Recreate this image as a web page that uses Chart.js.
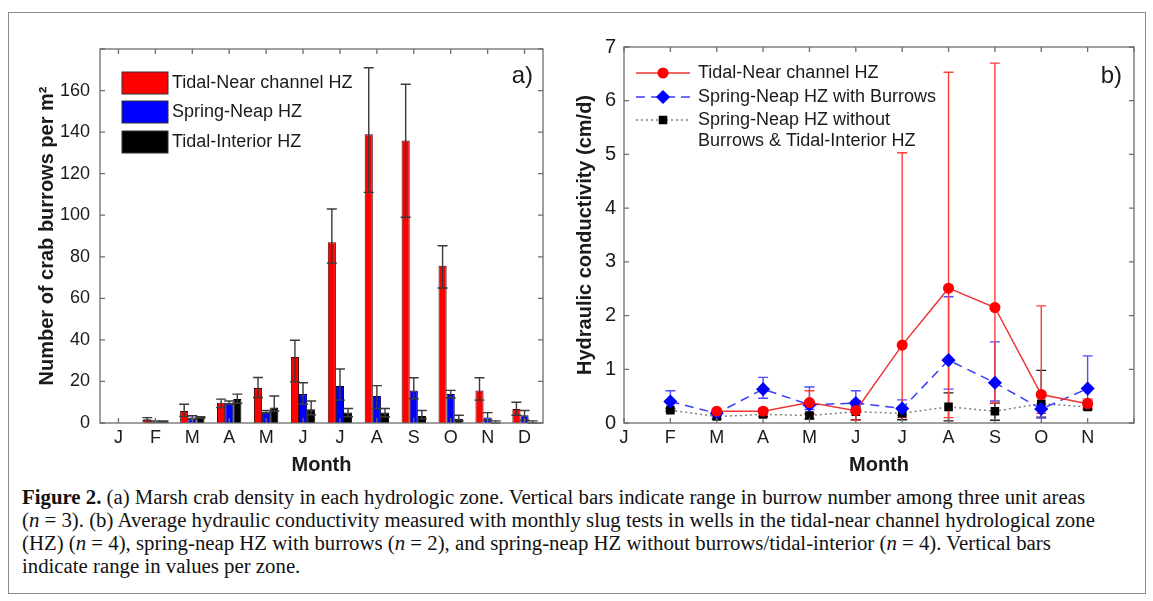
<!DOCTYPE html>
<html lang="en">
<head>
  <meta charset="UTF-8">
  <title>Figure 2 - crab burrows and hydraulic conductivity</title>
  <script src="https://cdn.jsdelivr.net/npm/chart.js"></script>
  <style>
    body { margin: 0; background: #fff; }
    #page { position: relative; width: 1153px; height: 601px; overflow: hidden; }
    #frame { position: absolute; left: 8px; top: 12px; width: 1136px; height: 580px; border: 1.5px solid #8c8c8c; }
    #boxA { position: absolute; left: 0; top: 0; width: 560px; height: 480px; }
    #boxB { position: absolute; left: 560px; top: 0; width: 593px; height: 480px; }
    #caption { position: absolute; left: 22px; top: 485px; font-family: "Liberation Serif", "DejaVu Serif", serif;
      font-size: 20.8px; line-height: 23px; color: #111; white-space: nowrap; }
  </style>
</head>
<body>
<div id="page">
  <div id="frame"></div>
  <div id="boxA"><canvas id="burrowChart" width="560" height="480"></canvas></div>
  <div id="boxB"><canvas id="kChart" width="593" height="480"></canvas></div>
  <div id="caption">
    <b>Figure 2.</b> (a) Marsh crab density in each hydrologic zone. Vertical bars indicate range in burrow number among three unit areas<br>
    (<i>n</i> = 3). (b) Average hydraulic conductivity measured with monthly slug tests in wells in the tidal-near channel hydrological zone<br>
    (HZ) (<i>n</i> = 4), spring-neap HZ with burrows (<i>n</i> = 2), and spring-neap HZ without burrows/tidal-interior (<i>n</i> = 4). Vertical bars<br>
    indicate range in values per zone.
  </div>
</div>
<script>
  const months = ['J', 'F', 'M', 'A', 'M', 'J', 'J', 'A', 'S', 'O', 'N', 'D'];

  // (a) crab burrows per m2 : mean, low, high
  const nearBurrows     = [0, 1.8, 5.8, 9.7, 16.8, 31.8, 87, 139, 136, 75.7, 15.7, 6.7];
  const nearBurrowsLo   = [0, 1.0, 3.2, 7.4, 12.3, 19.8, 77, 111, 99, 65, 11, 3.7];
  const nearBurrowsHi   = [0, 2.6, 9.0, 11.5, 21.9, 39.8, 103, 171, 163, 85.3, 21.8, 10];
  const springBurrows   = [0, 0.6, 2.6, 9.8, 5.5, 13.9, 17.8, 13, 15.7, 14, 2.6, 3.7];
  const springBurrowsLo = [0, 0.3, 1.8, 9.0, 4.8, 9.0, 11, 7, 11.7, 12, 1.3, 1.3];
  const springBurrowsHi = [0, 1.0, 3.5, 10.6, 6.1, 19.4, 26, 18, 21.8, 15.7, 5, 6];
  const interiorBurrows   = [0, 0.7, 2.6, 11.5, 7.4, 6.6, 5, 5, 3.4, 2, 0.3, 0.3];
  const interiorBurrowsLo = [0, 0.4, 2.3, 9.5, 5.8, 4.0, 3, 3, 2, 1, 0, 0];
  const interiorBurrowsHi = [0, 1.0, 3.0, 13.9, 13, 10.6, 7, 7, 6, 3.7, 1, 1];

  // (b) hydraulic conductivity (cm/d) : mean, low, high
  const nearK     = [null, null, 0.22, 0.22, 0.38, 0.23, 1.45, 2.51, 2.15, 0.53, 0.36, null];
  const nearKLo   = [null, null, 0.19, 0.18, 0.16, 0.05, 0.10, 0.10, 0.37, 0.18, 0.28, null];
  const nearKHi   = [null, null, 0.25, 0.27, 0.60, 0.42, 5.03, 6.53, 6.70, 2.18, 0.45, null];
  const springK   = [null, 0.40, 0.18, 0.63, 0.34, 0.37, 0.27, 1.17, 0.75, 0.26, 0.64, null];
  const springKLo = [null, 0.27, 0.15, 0.46, 0.25, 0.25, 0.15, 0.63, 0.41, 0.09, 0.42, null];
  const springKHi = [null, 0.60, 0.22, 0.85, 0.67, 0.60, 0.43, 2.35, 1.51, 0.35, 1.25, null];
  const interiorK   = [null, 0.24, 0.12, 0.16, 0.14, 0.21, 0.18, 0.30, 0.22, 0.36, 0.30, null];
  const interiorKLo = [null, 0.22, 0.08, 0.12, 0.08, 0.06, 0.06, 0.04, 0.05, 0.11, 0.25, null];
  const interiorKHi = [null, 0.27, 0.16, 0.20, 0.18, 0.30, 0.25, 0.56, 0.37, 0.98, 0.38, null];

  Chart.defaults.font.family = '"Liberation Sans", Arial, sans-serif';
  Chart.defaults.color = '#1a1a1a';

  // box around the plot and inward ticks on all four sides (matlab look)
  const boxTicks = {
    id: 'boxTicks',
    afterDraw(chart) {
      const { ctx, chartArea: a, scales: { x, y } } = chart;
      ctx.save();
      ctx.strokeStyle = '#6e6e6e';
      ctx.lineWidth = 1.3;
      ctx.strokeRect(a.left, a.top, a.right - a.left, a.bottom - a.top);
      ctx.beginPath();
      y.ticks.forEach(t => {
        const py = y.getPixelForValue(t.value);
        ctx.moveTo(a.left, py); ctx.lineTo(a.left + 5, py);
        ctx.moveTo(a.right, py); ctx.lineTo(a.right - 5, py);
      });
      months.forEach((m, i) => {
        const px = x.getPixelForTick(i);
        ctx.moveTo(px, a.top); ctx.lineTo(px, a.top + 5);
        ctx.moveTo(px, a.bottom); ctx.lineTo(px, a.bottom - 5);
      });
      ctx.stroke();
      ctx.restore();
    }
  };

  function drawErrors(chart, sets, capHalf) {
    const { ctx, scales: { y } } = chart;
    ctx.save();
    sets.forEach(s => {
      const meta = chart.getDatasetMeta(s.index);
      ctx.strokeStyle = s.color;
      ctx.lineWidth = 1.4;
      meta.data.forEach((el, i) => {
        if (s.lo[i] == null || s.lo[i] === s.hi[i]) return;
        const yl = y.getPixelForValue(s.lo[i]);
        const yh = y.getPixelForValue(s.hi[i]);
        ctx.beginPath();
        ctx.moveTo(el.x, yl); ctx.lineTo(el.x, yh);
        ctx.moveTo(el.x - capHalf, yl); ctx.lineTo(el.x + capHalf, yl);
        ctx.moveTo(el.x - capHalf, yh); ctx.lineTo(el.x + capHalf, yh);
        ctx.stroke();
      });
    });
    ctx.restore();
  }

  // ---------- (a) ----------
  const barErrors = {
    id: 'barErrors',
    afterDatasetsDraw(chart) {
      drawErrors(chart, [
        { index: 0, lo: nearBurrowsLo, hi: nearBurrowsHi, color: '#3a3a3a' },
        { index: 1, lo: springBurrowsLo, hi: springBurrowsHi, color: '#3a3a3a' },
        { index: 2, lo: interiorBurrowsLo, hi: interiorBurrowsHi, color: '#3a3a3a' }
      ], 5);
    }
  };

  const legendA = {
    id: 'legendA',
    afterDraw(chart) {
      const { ctx, chartArea: a } = chart;
      const rows = [83, 112, 142];
      ctx.save();
      ctx.font = '18px "Liberation Sans", Arial, sans-serif';
      ctx.textBaseline = 'middle';
      chart.data.datasets.forEach((ds, i) => {
        const yc = rows[i];
        ctx.fillStyle = ds.backgroundColor;
        ctx.fillRect(a.left + 22, yc - 11, 46, 22);
        ctx.strokeStyle = '#333';
        ctx.lineWidth = 1;
        ctx.strokeRect(a.left + 22, yc - 11, 46, 22);
        ctx.fillStyle = '#1a1a1a';
        ctx.fillText(ds.label, a.left + 72, yc);
      });
      ctx.font = '24px "Liberation Sans", Arial, sans-serif';
      ctx.textAlign = 'right';
      ctx.fillText('a)', a.right - 10, 76);
      ctx.restore();
    }
  };

  new Chart(document.getElementById('burrowChart'), {
    type: 'bar',
    data: {
      labels: months,
      datasets: [
        { label: 'Tidal-Near channel HZ', data: nearBurrows, backgroundColor: '#ff0000', borderColor: '#4a0000' },
        { label: 'Spring-Neap HZ', data: springBurrows, backgroundColor: '#0000ff', borderColor: '#00004a' },
        { label: 'Tidal-Interior HZ', data: interiorBurrows, backgroundColor: '#000000', borderColor: '#000000' }
      ]
    },
    options: {
      responsive: false,
      animation: false,
      layout: { padding: { top: 49, right: 17, bottom: 0, left: 0 } },
      datasets: { bar: { categoryPercentage: 0.66, barPercentage: 1.0, borderWidth: 1 } },
      plugins: { legend: { display: false }, tooltip: { enabled: false } },
      scales: {
        x: {
          grid: { display: false, drawTicks: false },
          border: { display: false },
          ticks: { font: { size: 18 }, padding: 4, maxRotation: 0, autoSkip: false },
          title: { display: true, text: 'Month', font: { size: 20, weight: 'bold' }, padding: { top: 0, bottom: 3 } },
          afterFit(s) { s.height = 57; }
        },
        y: {
          min: 0, max: 180,
          grid: { display: false, drawTicks: false },
          border: { display: false },
          ticks: { stepSize: 20, font: { size: 18 }, padding: 10, callback: v => (v === 180 ? '' : v) },
          title: { display: true, text: 'Number of crab burrows per m²', font: { size: 20, weight: 'bold' }, padding: { top: 35, bottom: 0 } },
          afterFit(s) { s.width = 100; }
        }
      }
    },
    plugins: [barErrors, boxTicks, legendA]
  });

  // ---------- (b) ----------
  const lineErrors = {
    id: 'lineErrors',
    beforeDatasetsDraw(chart) {
      drawErrors(chart, [
        { index: 2, lo: interiorKLo, hi: interiorKHi, color: '#1e1e1e' },
        { index: 1, lo: springKLo, hi: springKHi, color: '#4d4dff' },
        { index: 0, lo: nearKLo, hi: nearKHi, color: '#ff3b3b' }
      ], 5);
    }
  };

  const legendB = {
    id: 'legendB',
    afterDraw(chart) {
      const { ctx, chartArea: a } = chart;
      const rows = [73, 97, 120];
      const x0 = a.left + 12, x1 = a.left + 66, xm = a.left + 39;
      ctx.save();
      ctx.font = '18px "Liberation Sans", Arial, sans-serif';
      ctx.textBaseline = 'middle';
      chart.data.datasets.forEach((ds, i) => {
        const yc = rows[i];
        ctx.strokeStyle = ds.borderColor;
        ctx.lineWidth = ds.borderWidth;
        ctx.setLineDash(ds.borderDash || []);
        ctx.beginPath(); ctx.moveTo(x0, yc); ctx.lineTo(x1, yc); ctx.stroke();
        ctx.setLineDash([]);
        ctx.fillStyle = ds.pointBackgroundColor;
        ctx.strokeStyle = ds.pointBorderColor;
        Chart.helpers.drawPoint(ctx, { pointStyle: ds.pointStyle, radius: ds.pointRadius, borderWidth: 1, rotation: 0 }, xm, yc);
        ctx.fillStyle = '#1a1a1a';
        const lines = Array.isArray(ds.label) ? ds.label : [ds.label];
        lines.forEach((t, k) => ctx.fillText(t, a.left + 74, yc + k * 21));
      });
      ctx.font = '24px "Liberation Sans", Arial, sans-serif';
      ctx.textAlign = 'right';
      ctx.fillText('b)', a.right - 12, 76);
      ctx.restore();
    }
  };

  new Chart(document.getElementById('kChart'), {
    type: 'line',
    data: {
      labels: months,
      datasets: [
        { label: 'Tidal-Near channel HZ', data: nearK, borderColor: '#f03434', borderWidth: 1.5,
          pointStyle: 'circle', pointRadius: 4.8, pointBackgroundColor: '#ff0000', pointBorderColor: '#ff0000' },
        { label: 'Spring-Neap HZ with Burrows', data: springK, borderColor: '#3c3cff', borderWidth: 1.5, borderDash: [9, 6],
          pointStyle: 'rectRot', pointRadius: 6, pointBackgroundColor: '#0000ff', pointBorderColor: '#0000ff' },
        { label: ['Spring-Neap HZ without', 'Burrows & Tidal-Interior HZ'], data: interiorK, borderColor: '#808080', borderWidth: 1.5, borderDash: [2, 3],
          pointStyle: 'rect', pointRadius: 5, pointBackgroundColor: '#000000', pointBorderColor: '#000000' }
      ]
    },
    options: {
      responsive: false,
      animation: false,
      layout: { padding: { top: 47, right: 19, bottom: 0, left: 0 } },
      elements: { line: { tension: 0 } },
      plugins: { legend: { display: false }, tooltip: { enabled: false } },
      scales: {
        x: {
          offset: false,
          grid: { display: false, drawTicks: false },
          border: { display: false },
          ticks: { font: { size: 18 }, padding: 4, maxRotation: 0, autoSkip: false, callback: (v, i) => (i === 11 ? '' : months[i]) },
          title: { display: true, text: 'Month', font: { size: 20, weight: 'bold' }, padding: { top: 0, bottom: 3 } },
          afterFit(s) { s.height = 57; }
        },
        y: {
          min: 0, max: 7,
          grid: { display: false, drawTicks: false },
          border: { display: false },
          ticks: { stepSize: 1, font: { size: 20 }, padding: 8 },
          title: { display: true, text: 'Hydraulic conductivity (cm/d)', font: { size: 20, weight: 'bold' }, padding: { top: 13, bottom: 0 } },
          afterFit(s) { s.width = 64; }
        }
      }
    },
    plugins: [lineErrors, boxTicks, legendB]
  });
</script>
</body>
</html>
